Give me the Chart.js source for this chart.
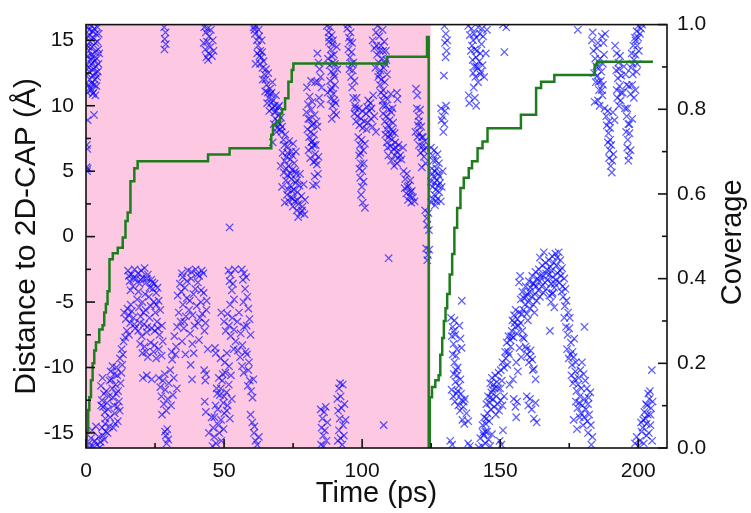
<!DOCTYPE html>
<html>
<head>
<meta charset="utf-8">
<script src="https://cdn.jsdelivr.net/npm/chart.js@4"></script>
<style>
  body { margin: 0; background: #fff; }
</style>
</head>
<body>
<canvas id="chart" width="751" height="513"></canvas>
<script>
// distance of the molecule to the 2D-CAP, [time (ps), distance (Å)]
const distEarly = [
    [0.5,16.0],[1.2,15.8],[2.0,16.1],[3.0,15.9],[4.2,16.0],[0.8,15.3],[1.5,14.9],[2.6,15.2],[3.6,15.5],[0.4,14.6],
    [1.1,14.2],[2.2,14.5],[3.3,14.1],[4.4,14.3],[4.8,14.0],[0.7,13.8],[1.6,13.5],[2.4,13.7],[3.9,13.6],[0.3,13.1],
    [1.0,12.9],[1.9,13.2],[2.8,12.8],[3.5,12.5],[4.0,12.2],[0.6,12.4],[1.4,12.0],[2.1,11.7],[3.2,12.0],[3.8,11.5],
    [0.9,11.6],[1.8,11.2],[2.7,11.0],[3.4,10.8],[0.5,11.0],[4.3,12.6],[4.1,14.9],
    [0.6,8.9],[2.9,9.3],[0.3,7.0],[0.5,6.7],[0.2,5.3],[0.4,5.0],[0.6,5.2],
    [28.3,16.0],[28.8,15.6],[28.5,15.1],[28.9,14.7],[28.4,14.3],
    [1.0,-15.8],[1.8,-15.4],[2.5,-16.0],[3.2,-15.6],[4.0,-15.9],[4.6,-15.3],[5.3,-15.7],[6.0,-15.2],[6.6,-15.5],[7.2,-14.9],
    [2.2,-14.8],[3.6,-14.5],[5.8,-14.6],[6.9,-14.3],[7.8,-15.0],[8.4,-14.5],[1.4,-16.1],[5.0,-16.1],[9.9,-14.6],[11.5,-14.1],[10.6,-14.3],
    [5.4,-11.4],[5.8,-12.5],[6.2,-13.0],[6.5,-12.0],[6.8,-13.4],[7.3,-11.8],[7.6,-12.7],[8.0,-13.2],[8.3,-12.2],[8.6,-11.0],
    [8.9,-10.3],[9.2,-10.9],[9.5,-11.6],[9.8,-12.3],[10.1,-12.9],[10.4,-13.5],[10.7,-11.3],[11.0,-10.0],[11.3,-10.6],[11.6,-11.8],
    [11.9,-12.6],[12.2,-13.3],[12.5,-11.2],[12.8,-10.4],[13.1,-9.8],[9.6,-9.9],[10.2,-10.5],[10.9,-12.0],[7.0,-13.9],[8.7,-13.8],
    [11.4,-13.0],[12.3,-9.3],[12.9,-8.6],[13.6,-8.0],[14.2,-7.7],[13.4,-9.0],[6.0,-10.8],[5.5,-12.9],
    [15.2,-2.6],[15.8,-3.4],[16.4,-2.9],[17.0,-3.8],[17.6,-2.5],[18.2,-3.2],[18.8,-2.8],[19.4,-3.6],[20.0,-2.6],[20.6,-3.1],
    [21.2,-2.4],[21.8,-3.5],[22.4,-2.9],[23.0,-3.9],[23.6,-3.3],[24.2,-4.0],[24.8,-3.6],[25.4,-4.3],[16.1,-4.1],[19.0,-4.2],[21.4,-4.4],
    [13.8,-5.8],[14.4,-6.3],[15.0,-5.5],[15.5,-6.0],[16.0,-6.6],[16.6,-5.7],[17.2,-6.2],[17.8,-7.0],[14.8,-7.2],[15.6,-7.5],
    [18.5,-4.8],[19.2,-5.4],[19.8,-6.1],[20.4,-5.0],[21.0,-6.7],[21.6,-5.6],[22.2,-6.9],[22.8,-4.6],[23.4,-5.3],[18.9,-7.2],
    [20.2,-7.6],[22.0,-7.3],[23.8,-7.0],[19.5,-6.6],
    [24.5,-5.0],[25.1,-5.8],[25.7,-6.5],[26.3,-4.9],[26.9,-5.6],[27.5,-6.8],[24.9,-7.2],[26.6,-7.5],[25.9,-3.9],
    [19.6,-8.2],[20.4,-8.9],[21.2,-8.4],[22.4,-9.2],[23.4,-8.1],[24.4,-8.8],[25.4,-9.3],[26.4,-8.6],[27.4,-9.1],[27.8,-8.0],
    [20.6,-10.8],[22.0,-10.6],[23.8,-10.9],
    [26.4,-10.8],[26.9,-11.5],[27.3,-12.2],[27.8,-11.0],[28.2,-12.8],[28.7,-11.7],[29.1,-13.3],[29.6,-12.4],[30.0,-11.2],[27.5,-13.6],
    [28.5,-10.5],[29.4,-14.7],[28.9,-15.2],[29.2,-15.8],[28.6,-14.9],[29.8,-15.5],
    [30.5,-10.2],[31.2,-9.4],[31.8,-10.8],[32.4,-9.0],[32.9,-11.6],[30.8,-12.9],[31.5,-12.1]
];

const distMid = [
    [33.2,-4.5],[33.6,-5.8],[34.0,-3.6],[34.3,-6.5],[34.7,-2.8],[35.1,-5.2],[35.4,-7.0],[35.8,-3.9],[36.2,-6.1],[36.5,-4.7],
    [36.9,-2.6],[37.3,-5.6],[37.7,-7.4],[38.1,-3.2],[38.5,-8.2],[38.9,-4.4],[39.3,-6.8],[39.7,-2.5],[40.1,-5.3],[40.5,-3.5],
    [40.9,-7.9],[41.3,-6.2],[41.7,-4.1],[42.1,-5.9],[42.5,-2.8],[42.9,-7.2],[43.3,-6.6],[43.7,-4.9],[44.1,-8.6],[39.0,-8.9],
    [37.9,-9.8],[38.4,-10.9],[32.0,-7.6],[32.6,-8.4],[33.0,-6.9],[31.0,-8.8],[34.8,-8.0],[36.0,-9.0],[40.3,-2.9],[41.0,-3.0],
    [42.8,-10.2],[43.2,-11.0],[43.0,-12.6],[43.4,-13.4],[43.5,-10.5],
    [45.5,-13.8],[46.0,-14.6],[46.4,-15.3],[46.9,-12.9],[47.3,-11.6],[47.7,-13.2],[48.1,-10.8],[48.5,-12.1],[48.9,-14.0],[49.3,-11.0],
    [49.7,-12.7],[50.1,-13.5],[50.5,-10.4],[50.9,-11.9],[51.3,-12.9],[51.7,-11.3],[52.1,-13.9],[48.3,-15.0],[47.1,-15.8],[49.0,-15.6],
    [50.3,-9.6],[51.0,-8.9],[51.8,-9.9],[52.5,-10.6],[48.7,-9.3],[46.7,-8.5],[47.0,-8.9],[49.8,-14.7],[52.8,-12.4],[45.8,-16.0],[44.5,-15.0],
    [51.6,-2.6],[52.0,-3.4],[52.4,-2.9],[52.8,-4.1],[53.2,-3.6],[53.6,-4.8],[52.2,-5.2],[53.9,-2.5],
    [50.0,-6.5],[50.6,-7.2],[51.2,-5.9],[51.8,-6.8],[52.4,-7.6],[53.0,-6.2],[53.6,-7.1],[54.2,-8.0],[54.8,-6.5],[55.4,-5.8],
    [56.0,-7.4],[56.6,-8.3],[57.2,-6.9],[57.8,-8.8],[55.0,-8.7],[53.5,-8.6],[49.0,-5.8],
    [56.4,-2.5],[56.8,-3.3],[57.2,-2.8],[57.6,-4.0],[58.0,-3.1],[58.4,-4.6],[58.8,-5.5],[57.0,-5.0],[59.2,-6.3],[58.2,-6.8],[59.6,-7.5],
    [55.8,-9.2],[56.5,-9.9],[57.1,-10.4],
    [58.3,-9.0],[58.8,-10.2],[59.3,-11.0],[59.8,-11.8],[60.3,-12.3],[59.0,-9.6],[60.6,-10.9],[58.6,-11.4],
    [59.6,-13.6],[60.2,-14.2],[60.8,-15.0],[61.4,-15.6],[62.0,-15.9],[62.6,-15.3],[61.0,-14.5],
    [52.0,0.7],
    [42.8,16.0],[43.4,15.6],[44.0,15.9],[44.6,15.3],[45.2,15.8],[42.6,14.8],[43.2,14.3],[43.8,14.9],[44.4,14.0],[45.0,14.5],
    [45.6,13.8],[44.2,13.5],[46.2,14.2],[43.6,13.7],[45.9,15.0],
    [60.7,16.0],[61.2,15.5],[61.6,16.1],[61.9,15.0],[62.3,14.6],[62.0,14.0],[62.7,15.3],[63.1,14.2],[63.5,13.7],[63.0,13.2],
    [63.9,12.9],[64.3,13.4],[64.6,12.4],[65.0,12.0],[65.4,11.6],[64.9,11.1],[65.8,11.0],[66.2,10.6],[66.6,11.3],[67.0,10.2],
    [67.4,9.8],[67.8,10.4],[68.2,9.5],[68.6,9.0],[69.0,9.6],[69.4,8.8],[69.8,9.3],[70.2,8.6],[70.6,9.1],[71.0,8.4],
    [68.0,8.6],[69.2,8.3],[66.0,12.5],[67.5,11.8],[68.8,10.8],[70.0,10.0],[63.6,15.0],[61.4,13.2],[67.6,7.2]
];

const distLate = [
    [70.8,8.0],[71.5,7.4],[72.2,7.8],[72.9,6.9],[73.6,7.3],[74.3,6.5],[71.2,6.4],[71.9,5.8],[72.6,6.1],[73.3,5.4],
    [74.0,5.9],[74.7,5.1],[75.4,5.6],[76.1,4.8],[71.6,4.9],[72.4,4.3],[73.1,4.7],[73.8,3.9],[74.5,4.4],[75.2,3.6],
    [75.9,4.1],[76.6,3.4],[77.3,3.9],[72.8,3.2],[73.5,2.7],[74.2,3.0],[74.9,2.3],[75.6,2.7],[76.3,2.0],[77.0,2.5],
    [77.7,1.8],[78.4,2.3],[79.1,1.7],[76.8,1.5],[78.0,3.1],[79.3,2.8],[70.5,5.4],[71.0,3.8],[72.0,2.6],[77.5,4.8],
    [78.8,4.0],[76.0,6.5],[75.0,7.1],
    [79.8,9.5],[80.4,10.1],[81.0,9.0],[81.6,9.7],[82.2,8.6],[82.8,9.3],[80.2,8.2],[80.8,7.6],[81.4,8.0],[82.0,7.3],
    [82.6,7.8],[83.2,7.0],[83.8,8.4],[80.6,6.6],[81.2,6.0],[81.8,6.8],[82.4,5.7],[83.0,6.3],[83.6,5.5],[84.2,6.1],
    [82.8,4.6],[83.4,4.0],[84.0,4.8],[82.2,3.9],[81.0,10.7],[80.0,11.4],[81.5,11.9],[83.0,11.8],
    [83.8,14.0],[84.2,13.3],[84.6,12.8],[85.0,12.2],[84.0,11.8],[85.3,11.4],[84.4,10.6],[85.0,10.1],
    [87.2,16.1],[87.8,15.6],[88.4,16.0],[89.0,15.4],[88.0,14.9],[88.6,14.3],[89.2,14.7],[89.8,13.9],[87.6,13.6],[88.2,13.1],
    [88.8,12.6],[89.4,13.3],[90.0,12.2],[88.4,11.9],[89.0,11.4],[89.6,10.9],[90.2,11.6],[88.6,10.5],[89.2,10.0],[89.8,9.5],
    [90.4,10.2],[89.0,9.0],[90.6,9.3],[91.0,12.8],[90.8,14.5],[87.5,11.0],
    [94.6,15.9],[95.2,15.2],[95.8,15.6],[96.4,14.8],[95.0,14.3],[95.6,13.7],[96.2,14.1],[96.8,13.3],[95.4,12.8],[96.0,12.2],
    [96.6,12.7],[97.2,11.9],[96.4,11.4],[94.9,16.2],
    [96.8,10.6],[97.4,10.0],[98.0,10.6],[97.2,9.4],[97.8,8.8],[98.4,9.2],[99.0,8.5],[99.6,9.0],[100.2,8.3],[100.8,8.8],
    [101.4,9.4],[102.0,8.7],[102.6,9.6],[103.2,9.0],[103.8,8.4],[104.4,9.2],[98.6,7.6],[99.2,7.0],[99.8,7.4],[100.4,6.6],
    [101.0,7.1],[98.9,6.2],[99.5,5.6],[100.1,5.0],[99.3,4.5],[99.9,3.8],[100.5,4.2],[99.6,3.2],[100.2,2.6],[101.0,2.2],
    [99.0,5.2],[103.0,10.2],[104.0,10.8],[102.2,10.4],[105.0,8.0],
    [103.8,15.0],[104.4,14.4],[105.0,15.6],[105.6,16.1],[106.2,15.3],[106.8,14.6],[107.4,15.8],[108.0,14.9],[108.6,14.2],[105.4,13.9],
    [106.0,13.3],[106.6,12.7],[107.2,13.6],[107.8,12.9],[108.4,13.2],[109.0,12.4],[105.8,12.2],[106.4,11.6],[107.0,12.0],[107.6,11.2],
    [108.2,11.8],[104.8,12.9],
    [106.8,11.0],[107.4,10.4],[108.0,10.8],[108.6,10.0],[109.2,10.5],[109.8,9.7],[107.6,9.4],[108.2,8.8],[108.8,9.2],[109.4,8.5],
    [110.0,8.9],[110.6,8.2],[111.2,8.7],[111.8,7.9],[108.4,7.8],[109.0,7.2],[109.6,7.6],[110.2,6.9],[110.8,7.4],[111.4,6.7],
    [112.0,7.2],[112.6,6.5],[113.2,7.0],[113.8,6.2],[109.5,6.2],[110.5,5.8],[111.6,5.4],[112.6,5.6],[114.2,5.9],[114.8,6.8],
    [112.6,11.0],[112.8,10.5],[110.4,10.9],[111.0,9.8],
    [115.0,5.0],[115.6,4.4],[116.2,4.8],[116.8,3.9],[117.4,4.3],[118.0,3.5],[116.0,3.3],[116.6,2.8],[117.2,3.1],[117.8,2.6],
    [118.4,3.0],[119.0,2.7],[115.4,3.7],
    [119.5,11.3],[120.0,10.8],[119.8,9.8],[120.4,9.2],[121.0,9.7],[120.2,8.5],[120.8,7.9],[121.4,8.4],[122.0,7.6],[120.6,7.0],
    [121.2,6.4],[121.8,6.9],[122.4,6.1],[123.0,5.6],[121.6,5.3],[122.6,7.3],[119.3,8.0],[123.2,6.8],
    [122.8,2.0],[123.4,1.4],[124.0,1.8],[123.6,0.9],[124.2,0.5],[123.2,-0.9],[123.8,-1.4],[124.3,-1.0],[123.6,-1.8],
    [109.6,-1.65],[107.8,-14.4],
    [85.0,-13.2],[85.6,-13.9],[86.2,-13.4],[85.3,-14.6],[85.9,-15.2],[86.5,-14.8],[87.1,-15.6],[85.1,-15.9],[86.8,-13.0],[87.4,-14.2],
    [86.0,-16.0],[91.0,-12.4],[91.6,-11.6],[92.2,-12.2],[91.3,-13.3],[91.9,-13.9],[92.5,-13.1],[93.1,-14.4],[91.6,-14.8],[92.2,-15.4],
    [92.8,-15.9],[93.4,-15.2],[94.0,-14.0],[91.2,-15.6],[92.0,-11.2],[93.0,-11.3],[93.6,-12.8]
];

const distAfterA = [
    [124.9,6.8],[125.5,6.2],[126.1,6.6],[126.7,5.8],[127.3,6.3],[125.2,5.2],[125.8,4.6],[126.4,5.0],[127.0,4.3],[127.6,4.8],
    [128.2,4.1],[125.5,3.8],[126.1,3.2],[126.7,3.6],[127.3,2.9],[127.9,3.4],[128.5,2.7],[125.0,2.6],[126.4,2.4],[128.8,3.8],
    [129.2,5.0],[127.8,5.6],[124.9,4.2],
    [128.6,9.8],[129.2,9.2],[129.8,8.6],[129.4,8.0],[130.0,9.6],[128.8,8.9],[130.4,10.0],
    [129.8,16.1],[130.3,15.5],[130.0,14.8],[130.6,14.2],[130.2,13.7],[130.8,15.0],[129.6,12.3],
    [138.4,16.1],[139.0,15.4],[139.6,15.9],[140.2,15.0],[140.8,14.3],[141.4,15.2],[142.0,16.0],[142.6,15.5],[143.2,14.7],[143.8,15.3],
    [139.4,14.2],[140.0,13.5],[140.6,13.0],[141.2,13.7],[141.8,12.9],[142.4,13.4],[143.0,12.6],[143.6,13.1],[144.2,12.2],[141.0,12.2],
    [142.0,11.8],[144.8,14.0],[145.2,15.8],[140.4,11.4],[140.8,10.6],[141.3,10.0],[151.5,14.1],[151.0,16.2],[152.2,16.0],[138.6,10.8],[138.8,10.2],
    [136.1,-4.9],
    [132.2,-6.2],[132.8,-6.9],[133.4,-6.4],[132.5,-7.6],[133.1,-8.2],[133.7,-7.5],[134.3,-8.6],[132.8,-9.0],[133.4,-9.6],[134.0,-9.1],
    [134.6,-10.0],[133.2,-10.5],[133.8,-11.1],[134.4,-10.6],[135.0,-11.4],[135.6,-10.9],[132.4,-11.7],[133.0,-12.2],[133.6,-12.6],[134.2,-12.0],
    [134.8,-12.9],[135.4,-13.3],[136.0,-12.5],[136.6,-13.0],[137.2,-12.4],[137.8,-13.5],[136.3,-14.0],[137.0,-14.3],[138.4,-14.1],[135.6,-7.8],
    [136.0,-8.5],[135.2,-6.8],[131.9,-15.6],[132.6,-15.9],[138.4,-15.8],[139.0,-16.0]
];

const distAfterB = [
    [142.8,-15.4],[143.4,-16.0],[144.0,-15.2],[144.6,-15.8],[145.2,-14.9],[143.6,-14.4],[144.2,-13.8],[144.8,-14.3],[145.4,-13.5],[146.0,-14.1],
    [146.6,-13.2],[145.0,-12.8],[145.6,-12.2],[146.2,-12.7],[146.8,-11.9],[147.4,-12.4],[148.0,-11.6],[146.4,-11.2],[147.0,-10.8],[147.6,-11.3],
    [148.2,-10.6],[148.8,-11.1],[149.4,-10.4],[147.8,-13.0],[148.4,-13.6],[149.0,-12.8],[149.6,-13.3],[150.2,-12.5],[150.8,-12.9],[151.4,-12.2],
    [145.8,-15.5],[146.4,-16.0],[147.0,-15.1],[149.8,-15.6],[150.4,-15.9],[151.0,-14.8],[142.2,-16.1],[150.0,-11.6],
    [150.2,-10.2],[150.8,-9.6],[151.4,-10.0],[152.0,-9.3],[152.6,-9.8],[153.2,-9.0],[153.8,-8.4],[151.8,-8.8],[152.4,-8.1],[153.0,-7.6],
    [153.6,-7.9],[154.2,-7.2],[154.8,-7.7],[155.4,-6.9],[156.0,-7.4],[154.4,-6.4],[155.0,-6.0],[155.6,-5.6],[156.2,-6.3],[156.8,-5.8],
    [157.4,-6.6],[158.0,-7.2],[158.6,-7.8],[159.2,-8.4],[159.8,-9.0],[160.4,-9.6],[161.0,-8.7],[161.6,-9.4],[162.2,-10.1],[162.8,-10.9],
    [157.0,-8.5],[157.6,-9.2],[155.8,-9.6],[156.4,-10.3],[154.6,-10.9],[153.4,-11.3],
    [154.9,-12.4],[155.5,-13.0],[156.1,-12.6],[155.8,-13.8],[159.6,-12.2],[160.2,-12.9],[160.8,-12.4],[161.4,-13.2],[162.2,-13.9],[162.8,-12.7],[163.2,-14.2],
    [157.4,-4.8],[158.0,-4.2],[158.6,-4.7],[159.2,-3.8],[159.8,-4.4],[160.4,-3.4],[161.0,-3.9],[161.6,-3.0],[162.2,-3.6],[162.8,-2.7],
    [163.4,-3.2],[164.0,-2.5],[164.6,-3.0],[165.2,-2.2],[158.4,-5.6],[159.0,-5.2],[159.6,-5.9],[160.2,-5.0],[160.8,-5.5],[161.4,-4.6],
    [162.0,-5.2],[162.6,-4.4],[163.2,-4.9],[163.8,-4.1],[164.4,-4.6],[165.0,-3.8],[165.6,-4.3],[166.2,-3.5],[166.8,-4.0],[157.8,-5.9],
    [157.2,-3.0],[156.8,-3.5],
    [166.4,-2.0],[167.0,-2.5],[167.6,-1.8],[168.2,-2.3],[168.8,-1.5],[169.4,-2.0],[170.0,-1.3],[170.6,-1.6],[171.2,-1.2],[171.8,-1.8],
    [172.4,-2.4],[167.2,-3.3],[167.8,-2.9],[168.4,-3.6],[169.0,-3.1],[169.6,-3.9],[170.2,-3.3],[170.8,-2.8],[171.4,-3.5],[172.0,-3.0],
    [172.6,-3.8],[173.2,-3.2],[167.8,-4.5],[168.4,-5.0],[169.0,-4.3],[169.6,-5.4],[168.0,-7.2],[172.8,-4.6],[173.4,-5.3],[174.0,-4.9],
    [174.6,-5.8],[164.4,-1.6],[165.8,-1.2],
    [173.2,-6.2],[173.8,-6.9],[174.4,-7.5],[175.0,-7.0],[175.6,-8.1],[174.2,-8.6],[174.8,-9.3],[175.4,-9.0],[176.0,-9.8],[176.6,-9.2],
    [177.2,-10.3],[175.8,-10.6],[176.4,-11.2],[177.0,-10.9],[177.6,-11.8],[178.2,-11.3],[178.8,-12.2],[177.4,-12.6],[178.0,-13.1],[178.6,-12.7],
    [179.2,-13.5],[179.8,-12.9],[180.4,-13.8],[181.0,-13.2],[181.6,-14.1],[182.2,-13.6],[182.8,-14.4],[179.0,-10.2],[179.6,-9.6],[180.2,-10.5],
    [180.8,-11.0],[181.4,-11.6],[182.0,-12.3],[182.6,-11.9],[180.5,-6.9],[176.6,-14.0],[177.8,-14.7],[183.4,-15.3],[183.0,-15.9],[181.8,-15.0],
    [183.2,15.0],[183.8,14.2],[184.4,13.6],[185.0,14.4],[185.6,13.0],[184.0,12.5],[184.6,11.8],[185.2,12.3],[185.8,11.2],[186.4,11.9],
    [187.0,10.8],[185.4,10.4],[186.0,10.0],[186.6,12.6],[187.2,11.6],[186.8,15.3],[187.4,14.8],[188.0,15.5],[187.6,13.9],[184.2,10.3],
    [186.2,13.6],[178.1,15.8],[183.5,15.6],
    [187.8,9.8],[188.4,9.2],[189.0,9.6],[188.6,8.5],[189.2,7.9],[189.8,8.3],[189.0,7.2],[189.6,6.6],[190.2,7.0],[189.4,6.0],
    [190.0,5.4],[190.6,5.8],[190.4,4.9],[191.0,6.3],[191.4,8.9],[190.8,9.5],
    [191.6,14.6],[192.2,14.0],[192.8,13.3],[193.4,13.8],[192.0,12.7],[192.6,12.1],[193.2,11.5],[193.8,12.3],[194.4,11.0],[192.4,10.6],
    [193.0,10.0],[193.6,10.4],[194.8,13.0],[195.4,12.4],[195.8,11.6],
    [195.2,9.8],[195.8,9.2],[196.4,8.6],[195.6,8.0],[196.2,7.4],[196.8,7.9],[196.0,6.8],[196.6,6.2],[197.2,6.6],[196.4,5.8],[197.8,9.0],
    [197.6,14.0],[198.2,14.6],[198.8,15.2],[199.4,15.7],[200.0,16.1],[200.6,15.5],[198.4,13.5],[199.0,13.9],[199.6,14.6],[200.2,14.2],
    [201.0,15.9],[201.4,16.2],
    [196.6,11.5],[197.2,10.9],[197.8,11.6],[198.4,10.6],[199.0,11.2],[198.0,12.4],[197.4,12.9],[199.4,12.6],
    [198.8,-15.8],[199.4,-15.3],[200.0,-16.0],[200.6,-15.6],[201.2,-14.9],[201.0,-14.2],[201.6,-14.6],[202.2,-13.4],[202.8,-12.8],[203.4,-13.6],
    [204.0,-12.4],[204.6,-13.1],[205.2,-12.6],[203.0,-14.3],[203.8,-15.0],[204.4,-14.4],[205.0,-15.6],[203.6,-12.0],[204.2,-11.8],[204.9,-10.2],[202.0,-15.8]
];

// extra frames inside the densest clusters
const distDense = [
    [1.3,15.4],[2.3,15.7],[3.4,14.8],[0.9,14.5],[2.0,13.9],[3.0,13.4],[4.5,13.2],[1.2,12.6],[2.5,12.3],[3.6,13.0],[1.5,11.4],[2.4,10.9],[3.0,11.6],[4.6,15.5],
    [15.5,-3.0],[17.3,-3.2],[19.8,-3.3],[22.0,-3.2],[24.0,-3.5],[16.2,-5.2],[17.5,-6.7],[20.8,-5.8],[23.0,-6.2],[25.5,-5.2],[26.0,-7.0],[21.8,-8.8],[24.8,-8.3],
    [34.5,-4.2],[35.6,-6.5],[36.6,-3.4],[37.6,-4.9],[38.6,-6.0],[39.6,-4.0],[40.6,-6.6],[41.6,-5.0],[42.6,-4.3],[43.6,-5.6],[35.0,-3.1],[38.2,-2.7],[41.9,-2.6],
    [47.5,-12.0],[48.8,-11.6],[50.0,-12.2],[51.0,-13.3],[49.5,-10.5],[46.5,-13.8],[48.0,-14.4],
    [61.0,15.8],[62.5,15.8],[62.8,13.8],[63.8,14.1],[64.0,12.0],[65.2,12.8],[65.6,10.2],[66.8,10.9],[67.2,11.0],[68.4,10.0],[69.6,9.9],[70.4,8.2],[66.4,9.6],[69.0,8.0],
    [71.8,7.0],[73.0,6.4],[74.8,6.2],[72.5,5.2],[74.0,4.8],[75.8,5.0],[73.2,3.6],[75.0,2.9],[76.5,2.8],[78.2,2.0],[74.6,3.5],[76.4,4.3],
    [80.5,9.0],[81.8,8.5],[82.5,7.0],[81.6,7.2],[83.2,5.8],[83.5,8.8],[82.0,10.3],
    [88.0,15.2],[89.5,15.0],[88.9,13.8],[89.7,12.4],[88.7,11.2],[89.9,10.4],[90.1,13.2],
    [95.6,14.9],[96.2,13.2],[97.6,9.8],[98.8,9.8],[100.0,9.6],[101.6,8.2],[103.4,9.8],[99.4,6.4],[100.6,5.6],[101.8,9.9],
    [105.2,14.6],[106.4,14.2],[107.6,14.2],[108.8,13.5],[106.2,12.4],[107.6,10.0],[108.8,8.2],[110.0,7.8],[111.0,8.0],[112.2,6.8],[109.2,6.8],[110.6,9.5],[113.0,6.0],[111.8,6.2],
    [120.6,8.8],[121.6,7.6],[122.2,6.6],[120.0,7.6],[116.4,3.8],[117.6,3.4],
    [125.8,5.8],[126.9,5.2],[127.5,3.9],[126.2,4.1],[125.4,4.8],[128.0,4.6],[126.9,2.7],[125.6,2.9],
    [139.8,14.6],[140.6,15.5],[141.6,14.2],[142.8,14.0],[141.4,13.0],[142.8,12.4],[140.2,12.5],[143.4,15.9],
    [133.2,-7.2],[134.0,-10.2],[134.6,-11.8],[135.8,-12.0],[136.8,-12.6],
    [143.8,-15.0],[145.0,-13.9],[146.4,-12.3],[147.2,-11.7],[148.6,-12.2],[149.2,-11.6],[150.6,-11.0],[144.6,-14.9],
    [152.8,-8.8],[154.0,-7.6],[155.2,-6.6],[156.6,-6.8],[158.2,-7.7],[159.6,-8.6],[160.8,-9.2],[161.8,-10.2],
    [159.4,-4.6],[160.6,-4.2],[161.8,-3.6],[163.0,-3.8],[164.2,-3.4],[165.4,-3.0],[162.4,-5.8],[160.0,-6.4],[166.6,-2.8],[168.6,-2.6],
    [170.4,-2.2],[171.6,-2.6],[169.8,-3.6],[168.8,-4.4],[172.2,-4.2],[173.6,-4.0],
    [176.2,-8.8],[177.4,-9.6],[178.4,-10.8],[179.4,-11.6],[180.6,-12.4],[181.8,-12.8],[178.8,-13.8],[180.0,-14.4],[176.8,-7.8],[175.2,-6.2],
    [184.8,13.0],[185.6,11.8],[186.8,11.2],[187.2,13.2],[185.4,14.8],[189.4,8.8],[189.8,7.4],[193.0,12.8],[193.8,11.0],[192.2,11.2],
    [196.0,9.8],[196.8,8.6],[199.0,15.0],[200.0,15.2],[199.6,13.2],[198.0,13.2],
    [201.8,-14.0],[202.6,-13.9],[203.2,-12.9],[204.4,-13.6],[203.0,-15.2]
];

// coverage of the 2D-CAP (right axis), value holds until the next time
const coverageTime = [
    0, 0.3, 0.8, 1.2, 1.8, 2.4, 3.0, 3.6, 4.8, 6.0, 6.6, 7.2, 7.8, 8.5, 9.7, 11.5, 13.3, 14.3, 15.1, 16.1, 17.5, 18.7,
    44.2, 52.0, 67.1, 67.7, 69.0, 70.3, 71.0, 72.1, 73.3, 74.5, 75.1, 109.0, 123.5, 124.1,
    124.5, 125.3, 126.5, 127.7, 128.3, 129.0, 129.6, 130.2, 130.8, 131.7, 132.6, 133.4, 134.4, 135.6, 136.8, 138.6, 139.8,
    141.8, 143.6, 145.4, 157.5, 163.0, 164.8, 169.6, 184.2, 185.1, 205.3
];
const coverageValue = [
    0, 0.04, 0.09, 0.12, 0.16, 0.2, 0.23, 0.25, 0.28, 0.29, 0.32, 0.34, 0.37, 0.446, 0.46, 0.473, 0.497, 0.536, 0.556, 0.63, 0.661, 0.677,
    0.693, 0.708, 0.74, 0.763, 0.771, 0.79, 0.8, 0.826, 0.865, 0.893, 0.908, 0.924, 0.971, 0,
    0.12, 0.144, 0.16, 0.172, 0.22, 0.26, 0.3, 0.33, 0.364, 0.41, 0.458, 0.52, 0.567, 0.614, 0.638, 0.661, 0.677,
    0.708, 0.724, 0.755, 0.787, 0.85, 0.865, 0.881, 0.904, 0.912, 0.912
];

const timeTicks = [0, 50, 100, 150, 200];
const timeMinor = [25, 75, 125, 175];
const distTicks = [-15, -10, -5, 0, 5, 10, 15];
const distMinor = [-12.5, -7.5, -2.5, 2.5, 7.5, 12.5];
const coverageTicks = [0, 0.2, 0.4, 0.6, 0.8, 1.0];
const coverageMinor = [0.1, 0.3, 0.5, 0.7, 0.9];
const shadedEnd = 124.8;

const FONT = '"Liberation Sans", Arial, sans-serif';
const INK = '#111';

const distancePoints = [...distEarly, ...distMid, ...distLate, ...distAfterA, ...distAfterB, ...distDense]
    .map(p => ({ x: p[0], y: p[1] }));
const coveragePoints = coverageTime.map((t, i) => ({ x: t, y: coverageValue[i] }));

const shadePlugin = {
    id: 'shade',
    beforeDatasetsDraw(chart) {
        const { ctx, chartArea: a, scales } = chart;
        const x0 = scales.x.getPixelForValue(0);
        const x1 = scales.x.getPixelForValue(shadedEnd);
        ctx.save();
        ctx.fillStyle = '#fdc9e2';
        ctx.fillRect(x0, a.top, x1 - x0, a.bottom - a.top);
        ctx.restore();
    }
};

const framePlugin = {
    id: 'frame',
    afterDatasetsDraw(chart) {
        const { ctx, chartArea: a, scales } = chart;
        ctx.save();
        ctx.strokeStyle = INK;
        ctx.lineWidth = 1.6;
        ctx.strokeRect(a.left, a.top, a.right - a.left, a.bottom - a.top);
        const line = (x1, y1, x2, y2) => {
            ctx.beginPath(); ctx.moveTo(x1, y1); ctx.lineTo(x2, y2); ctx.stroke();
        };
        timeTicks.forEach(v => { const x = scales.x.getPixelForValue(v); line(x, a.bottom, x, a.bottom - 9); });
        timeMinor.forEach(v => { const x = scales.x.getPixelForValue(v); line(x, a.bottom, x, a.bottom - 5); });
        distTicks.forEach(v => { const y = scales.y.getPixelForValue(v); line(a.left, y, a.left + 9, y); });
        distMinor.forEach(v => { const y = scales.y.getPixelForValue(v); line(a.left, y, a.left + 5, y); });
        coverageTicks.forEach(v => { const y = scales.y2.getPixelForValue(v); line(a.right, y, a.right - 9, y); });
        coverageMinor.forEach(v => { const y = scales.y2.getPixelForValue(v); line(a.right, y, a.right - 5, y); });

        // right axis title reads bottom to top
        ctx.translate(733, (a.top + a.bottom) / 2 + 6);
        ctx.rotate(-Math.PI / 2);
        ctx.fillStyle = INK;
        ctx.font = '29px ' + FONT;
        ctx.textAlign = 'center';
        ctx.textBaseline = 'middle';
        ctx.fillText('Coverage', 0, 0);
        ctx.restore();
    }
};

new Chart(document.getElementById('chart'), {
    type: 'scatter',
    data: {
        datasets: [{
            type: 'line',
            label: 'Coverage',
            data: coveragePoints,
            yAxisID: 'y2',
            borderColor: '#1d7d1d',
            borderWidth: 2.5,
            stepped: true,
            pointRadius: 0,
            fill: false,
            clip: 0
        }, {
            label: 'Distance',
            data: distancePoints,
            yAxisID: 'y',
            pointStyle: 'crossRot',
            pointRadius: 5.2,
            borderWidth: 1.3,
            borderColor: 'rgba(0,0,255,0.62)',
            backgroundColor: 'rgba(0,0,255,0.62)',
            clip: 0
        }]
    },
    options: {
        responsive: false,
        devicePixelRatio: 1,
        animation: false,
        layout: { padding: { top: 23, left: 0, right: 0, bottom: 0 } },
        plugins: { legend: { display: false }, tooltip: { enabled: false } },
        scales: {
            x: {
                type: 'linear',
                position: 'bottom',
                min: 0,
                max: 210.4,
                afterBuildTicks: s => { s.ticks = timeTicks.map(v => ({ value: v })); },
                afterFit: s => { s.height = 65; },
                grid: { display: false, drawTicks: false },
                border: { display: false },
                ticks: { font: { family: FONT, size: 21 }, color: INK, padding: 11, maxRotation: 0 },
                title: { display: true, text: 'Time (ps)', font: { family: FONT, size: 29 }, color: INK, padding: { bottom: 2 } }
            },
            y: {
                type: 'linear',
                position: 'left',
                min: -16.15,
                max: 16.2,
                afterBuildTicks: s => { s.ticks = distTicks.map(v => ({ value: v })); },
                afterFit: s => { s.width = 86; },
                grid: { display: false, drawTicks: false },
                border: { display: false },
                ticks: { font: { family: FONT, size: 21 }, color: INK, padding: 12 },
                title: { display: true, text: 'Distance to 2D-CAP (Å)', font: { family: FONT, size: 30 }, color: INK, padding: { top: 9 } }
            },
            y2: {
                type: 'linear',
                position: 'right',
                min: 0,
                max: 1,
                afterBuildTicks: s => { s.ticks = coverageTicks.map(v => ({ value: v })); },
                afterFit: s => { s.width = 84; },
                grid: { display: false, drawTicks: false },
                border: { display: false },
                ticks: { font: { family: FONT, size: 21 }, color: INK, padding: 10, callback: v => v.toFixed(1) }
            }
        }
    },
    plugins: [shadePlugin, framePlugin]
});
</script>
</body>
</html>
